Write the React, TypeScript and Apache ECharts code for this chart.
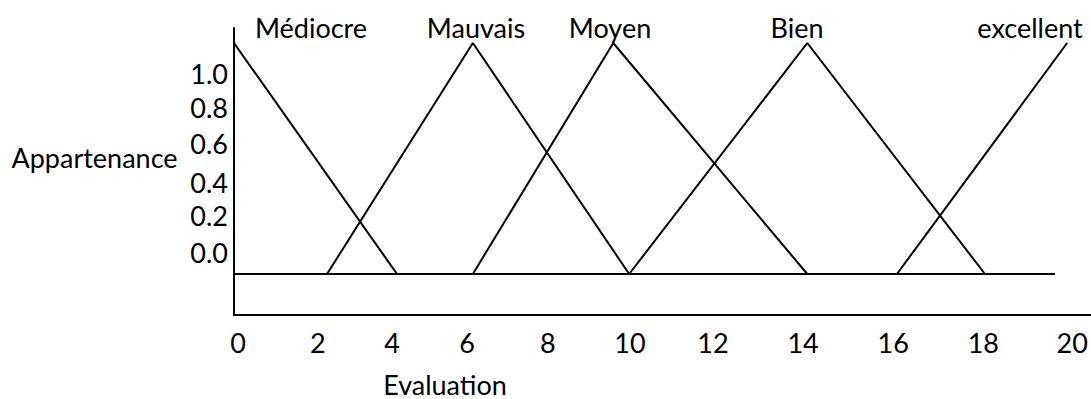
import React, { useEffect, useRef } from "react";
import * as echarts from "echarts";

const MEDIOCRE: number[][] = [[0, 1], [3.89, 0]];
const MAUVAIS: number[][] = [[2.22, 0], [5.7, 1], [9.43, 0]];
const MOYEN: number[][] = [[5.7, 0], [9.05, 1], [13.68, 0]];
const BIEN: number[][] = [[9.43, 0], [13.68, 1], [17.92, 0]];
const EXCELLENT: number[][] = [[15.82, 0], [19.88, 1]];
const BASELINE: number[][] = [[0, 0], [19.59, 0]];

const SERIES_NAMES = ["Médiocre", "Mauvais", "Moyen", "Bien", "excellent"];
const SERIES_DATA = [MEDIOCRE, MAUVAIS, MOYEN, BIEN, EXCELLENT];

// Tick labels as printed (unevenly placed in the original drawing)
const X_TICK_LABELS = ["0", "2", "4", "6", "8", "10", "12", "14", "16", "18", "20"];
const X_TICK_AT = [0.1, 2.0, 3.77, 5.56, 7.49, 9.45, 11.43, 13.58, 15.73, 17.88, 20.0];
const Y_TICK_LABELS = ["0.0", "0.2", "0.4", "0.6", "0.8", "1.0"];
const Y_TICK_AT = [0.095, 0.255, 0.398, 0.567, 0.719, 0.87];

const X_NAME = "Evaluation";
const Y_NAME = "Appartenance";

const FONT = "Lato, 'Open Sans', sans-serif";
const FS = 27;

function nearestLabel(v: number, at: number[], labels: string[]) {
  let best = 0;
  for (let i = 1; i < at.length; i++) {
    if (Math.abs(at[i] - v) < Math.abs(at[best] - v)) best = i;
  }
  return labels[best];
}

export default function App() {
  const ref = useRef<HTMLDivElement>(null);
  useEffect(() => {
    document.body.style.margin = "0";
    const chart = echarts.init(ref.current!, undefined, { renderer: "svg" });
    const lineSeries = SERIES_DATA.map((d, i) => ({
      type: "line",
      name: SERIES_NAMES[i],
      data: d,
      symbol: "none",
      clip: false,
      lineStyle: { color: "#000", width: 2 },
    }));
    const labelCenters = [311, 476, 610, 797, 1030];
    chart.setOption({
      animation: false,
      backgroundColor: "#fff",
      grid: { left: 234, top: 28, right: 0, bottom: 84 },
      xAxis: {
        type: "value",
        min: 0,
        max: 20.45,
        axisLine: { show: true, onZero: false, lineStyle: { color: "#000", width: 2 } },
        axisTick: { show: false },
        splitLine: { show: false },
        axisLabel: {
          customValues: X_TICK_AT,
          formatter: (v: number) => nearestLabel(v, X_TICK_AT, X_TICK_LABELS),
          color: "#000",
          fontFamily: FONT,
          fontSize: FS,
          margin: 14,
        },
      },
      yAxis: {
        type: "value",
        min: -0.1775,
        max: 1.065,
        axisLine: { show: true, onZero: false, lineStyle: { color: "#000", width: 2 } },
        axisTick: { show: false },
        splitLine: { show: false },
        axisLabel: {
          customValues: Y_TICK_AT,
          formatter: (v: number) => nearestLabel(v, Y_TICK_AT, Y_TICK_LABELS),
          color: "#000",
          fontFamily: FONT,
          fontSize: FS,
          margin: 6,
        },
      },
      series: [
        ...lineSeries,
        {
          type: "line",
          name: "base",
          data: BASELINE,
          symbol: "none",
          lineStyle: { color: "#000", width: 2 },
        },
      ],
      graphic: [
        ...SERIES_NAMES.map((n, i) => ({
          type: "text",
          x: labelCenters[i],
          y: 27,
          style: {
            text: n,
            fill: "#000",
            font: `${FS}px ${FONT}`,
            textAlign: "center",
            textVerticalAlign: "middle",
          },
        })),
        {
          type: "text",
          x: 94.5,
          y: 157,
          style: {
            text: Y_NAME,
            fill: "#000",
            font: `${FS}px ${FONT}`,
            textAlign: "center",
            textVerticalAlign: "middle",
          },
        },
        {
          type: "text",
          x: 445,
          y: 384,
          style: {
            text: X_NAME,
            fill: "#000",
            font: `${FS}px ${FONT}`,
            textAlign: "center",
            textVerticalAlign: "middle",
          },
        },
      ],
    });
    return () => chart.dispose();
  }, []);
  return <div ref={ref} style={{ width: 1091, height: 399 }} />;
}
